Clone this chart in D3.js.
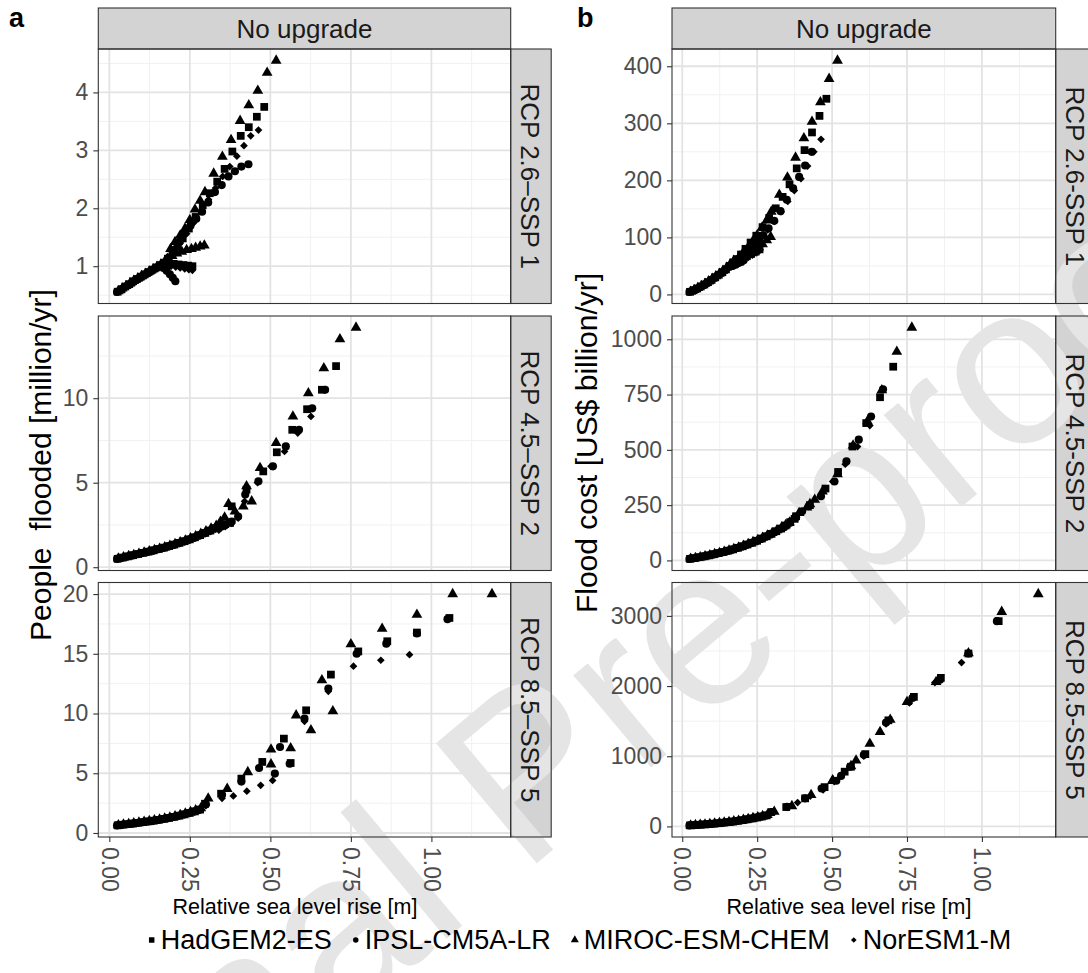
<!DOCTYPE html>
<html><head><meta charset="utf-8">
<script src="https://cdn.jsdelivr.net/npm/d3@7"></script>
<style>
body{margin:0;background:#fff}
svg{display:block}
text{font-family:"Liberation Sans",Arial,Helvetica,sans-serif}
</style>
</head><body>
<svg id="chart" width="1088" height="973"></svg>
<script>
// ---------------- categories / labels ----------------
const models = ["HadGEM2-ES","IPSL-CM5A-LR","MIROC-ESM-CHEM","NorESM1-M"];
const stripLabelsA = ["RCP 2.6\u2013SSP 1","RCP 4.5\u2013SSP 2","RCP 8.5\u2013SSP 5"];
const stripLabelsB = ["RCP 2.6-SSP 1","RCP 4.5-SSP 2","RCP 8.5-SSP 5"];
const facetTitle = "No upgrade";
const xTickValues = [0,0.25,0.5,0.75,1.0];
const xTickLabels = ["0.00","0.25","0.50","0.75","1.00"];
const yTicksPeople26 = [1,2,3,4];
const yTicksPeople45 = [0,5,10];
const yTicksPeople85 = [0,5,10,15,20];
const yTicksCost26 = [0,100,200,300,400];
const yTicksCost45 = [0,250,500,750,1000];
const yTicksCost85 = [0,1000,2000,3000];
const xTitle = "Relative sea level rise [m]";
const yTitleA = "People  flooded [million/yr]";
const yTitleB = "Flood cost [US$ billion/yr]";
const watermark = "Journal Pre-proof";

// ---------------- RCP 2.6 - SSP 1 ----------------
const slr26Had  = [0.026,0.038,0.050,0.062,0.074,0.086,0.098,0.110,0.122,0.134,0.146,0.158,0.170,0.182,0.196,0.211,0.228,0.247,0.268,0.290,0.312,0.335,0.358,0.382,0.408,0.433,0.458,0.481,0.185,0.200,0.215,0.230,0.245,0.258];
const ppl26Had  = [0.56,0.60,0.65,0.69,0.74,0.78,0.82,0.86,0.90,0.94,0.98,1.02,1.06,1.13,1.23,1.34,1.48,1.65,1.85,2.05,2.26,2.46,2.68,2.98,3.25,3.40,3.58,3.75,1.05,1.04,1.03,1.02,1.01,1.00];
const cost26Had = [4.6,7.5,10.5,14,17.5,21.5,25.5,30,34.5,39,44,50,56,62,70,80,91,103,118,134,151,171,193,221,253,284,313,343,58,63,67,71,75,79];

const slr26Ipsl  = [0.024,0.036,0.048,0.060,0.072,0.084,0.096,0.108,0.120,0.132,0.144,0.156,0.170,0.185,0.200,0.218,0.235,0.252,0.270,0.288,0.307,0.328,0.349,0.370,0.390,0.410,0.432,0.168,0.178,0.188,0.197,0.205];
const ppl26Ipsl  = [0.556,0.60,0.64,0.68,0.72,0.76,0.80,0.84,0.88,0.92,0.96,1.00,1.06,1.15,1.28,1.42,1.58,1.70,1.82,1.94,2.10,2.28,2.40,2.55,2.64,2.72,2.76,0.97,0.92,0.86,0.80,0.74];
const cost26Ipsl = [4.4,7,10,13.5,17,21,25,29.5,34,38.5,43.5,49,55,61,67,75,83,93,104,116,129,146,166,186,206,226,250,50,52,55,57,60];

const slr26Miroc  = [0.028,0.040,0.052,0.064,0.076,0.088,0.100,0.112,0.124,0.136,0.148,0.160,0.172,0.190,0.204,0.220,0.235,0.250,0.266,0.282,0.297,0.324,0.351,0.378,0.406,0.433,0.461,0.490,0.518,0.180,0.195,0.210,0.225,0.240,0.255,0.268,0.282,0.295];
const ppl26Miroc  = [0.57,0.615,0.66,0.705,0.75,0.79,0.83,0.87,0.91,0.95,0.99,1.03,1.08,1.30,1.42,1.53,1.65,1.80,1.98,2.13,2.28,2.60,2.89,3.18,3.51,3.78,4.03,4.34,4.55,1.13,1.18,1.22,1.25,1.28,1.30,1.32,1.34,1.36];
const cost26Miroc = [5,8,11.5,15,19,23,27.5,32,36.5,41.5,47,53,59,66,74,83,93,104,117,130,145,175,205,240,274,303,337,378,410,56,61,66,71,77,83,88,95,101];

const slr26Nor  = [0.025,0.037,0.049,0.061,0.073,0.085,0.097,0.109,0.121,0.133,0.145,0.157,0.169,0.182,0.200,0.220,0.240,0.262,0.285,0.308,0.330,0.352,0.374,0.396,0.418,0.439,0.463,0.178,0.192,0.206,0.220,0.234,0.247,0.258];
const ppl26Nor  = [0.56,0.605,0.65,0.695,0.735,0.775,0.815,0.855,0.895,0.935,0.975,1.015,1.055,1.12,1.25,1.40,1.56,1.75,1.95,2.15,2.35,2.55,2.72,2.90,3.08,3.25,3.35,1.01,1.00,0.985,0.97,0.955,0.94,0.93];
const cost26Nor = [4.5,7.2,10.2,13.8,17.2,21.2,25.2,29.8,34.2,38.8,43.8,49.5,55.5,60,68,77,87,99,113,128,145,163,182,203,225,250,272,53,57,61,65,69,73,77];

// ---------------- RCP 4.5 - SSP 2 ----------------
const slr45Had  = [0.026,0.042,0.058,0.074,0.090,0.106,0.122,0.138,0.154,0.170,0.186,0.202,0.218,0.234,0.250,0.266,0.282,0.298,0.314,0.330,0.345,0.360,0.375,0.380,0.426,0.478,0.520,0.568,0.614,0.660,0.704];
const ppl45Had  = [0.50,0.57,0.64,0.71,0.78,0.85,0.92,1.00,1.08,1.16,1.25,1.34,1.44,1.54,1.65,1.77,1.90,2.03,2.17,2.31,2.42,2.55,2.62,3.60,4.59,5.67,6.80,8.13,9.35,10.50,11.90];
const cost45Had = [7,10.5,14.5,18.5,23,28,33,38,44,50,57,64,72,80,89,99,109,120,132,144,158,173,188,200,250,325,400,515,621,738,876];

const slr45Ipsl  = [0.024,0.040,0.056,0.072,0.088,0.104,0.120,0.136,0.152,0.168,0.184,0.200,0.216,0.232,0.248,0.264,0.280,0.296,0.312,0.328,0.340,0.360,0.380,0.400,0.422,0.463,0.508,0.548,0.589,0.630,0.670];
const ppl45Ipsl  = [0.49,0.56,0.63,0.70,0.77,0.84,0.91,0.98,1.06,1.14,1.23,1.32,1.42,1.52,1.63,1.75,1.88,2.01,2.15,2.29,2.30,2.50,2.70,3.00,4.30,5.08,5.97,7.15,8.13,9.40,10.50];
const cost45Ipsl = [6.7,10,14,18,22,27,32,37,43,49,56,63,71,79,88,98,108,119,131,143,150,170,195,222,245,290,357,448,546,651,774];

const slr45Miroc  = [0.028,0.044,0.060,0.076,0.092,0.108,0.124,0.140,0.156,0.172,0.188,0.204,0.220,0.236,0.252,0.268,0.284,0.300,0.316,0.332,0.345,0.358,0.370,0.390,0.416,0.426,0.442,0.468,0.518,0.570,0.618,0.666,0.716,0.766];
const ppl45Miroc  = [0.52,0.59,0.66,0.73,0.80,0.87,0.94,1.02,1.10,1.19,1.28,1.38,1.48,1.59,1.71,1.84,1.98,2.13,2.29,2.45,2.70,2.95,3.75,3.30,3.60,4.80,3.90,5.87,7.35,8.92,10.30,11.78,13.49,14.18];
const cost45Miroc = [7.5,11,15,19.5,24,29,34,39.5,45.5,52,59,66.5,74.5,83,92.5,102.5,113,124.5,137,150,160,172,188,215,240,255,275,312,390,520,630,770,944,1053];

const slr45Nor  = [0.025,0.041,0.057,0.073,0.089,0.105,0.121,0.137,0.153,0.169,0.185,0.201,0.217,0.233,0.249,0.265,0.281,0.297,0.313,0.329,0.340,0.360,0.380,0.400,0.420,0.460,0.502,0.544,0.585,0.626];
const ppl45Nor  = [0.49,0.555,0.62,0.69,0.76,0.83,0.90,0.97,1.05,1.13,1.21,1.30,1.40,1.50,1.61,1.72,1.84,1.97,2.10,2.24,2.20,2.40,2.60,2.90,3.90,5.00,5.97,6.85,7.94,8.92];
const cost45Nor = [6.8,10.2,14.2,18.2,22.5,27.5,32.5,37.5,43.5,49.5,56.5,63.5,71.5,79.5,88.5,98.5,108.5,119.5,131.5,143.5,150,172,196,222,245,290,357,435,515,610];

// ---------------- RCP 8.5 - SSP 5 ----------------
const slr85Had  = [0.026,0.042,0.058,0.074,0.090,0.106,0.122,0.138,0.154,0.170,0.186,0.202,0.218,0.234,0.250,0.266,0.282,0.297,0.347,0.410,0.475,0.542,0.563,0.611,0.688,0.773,0.863,0.955,1.056];
const ppl85Had  = [0.64,0.69,0.74,0.79,0.85,0.91,0.97,1.03,1.10,1.18,1.26,1.35,1.45,1.56,1.68,1.81,1.96,2.45,3.29,4.55,5.95,7.90,5.86,10.27,13.26,15.20,16.05,16.78,18.00];
const cost85Had = [14.5,18.5,23,28,33,39,46,53,61,69,79,89,101,113,127,141,157,205,276,400,560,780,850,1030,1512,1846,2117,2464,2925];

const slr85Ipsl  = [0.024,0.040,0.056,0.072,0.088,0.104,0.120,0.136,0.152,0.168,0.184,0.200,0.216,0.232,0.248,0.264,0.280,0.300,0.350,0.410,0.465,0.514,0.530,0.560,0.606,0.680,0.768,0.860,0.955,1.050];
const ppl85Ipsl  = [0.633,0.68,0.73,0.78,0.84,0.90,0.96,1.02,1.09,1.17,1.25,1.34,1.44,1.55,1.67,1.80,1.95,2.40,3.20,4.30,5.44,4.97,7.20,5.80,9.57,12.10,15.00,15.85,16.70,17.90];
const cost85Ipsl = [14,18,22,27,32,38,45,52,60,68,78,88,100,112,126,140,156,205,280,400,540,650,720,850,1020,1480,1830,2090,2464,2925];

const slr85Miroc  = [0.028,0.044,0.060,0.076,0.092,0.108,0.124,0.140,0.156,0.172,0.188,0.204,0.220,0.236,0.252,0.268,0.284,0.307,0.366,0.430,0.502,0.502,0.563,0.580,0.626,0.660,0.694,0.750,0.847,0.955,1.066,1.188];
const ppl85Miroc  = [0.66,0.71,0.76,0.82,0.88,0.94,1.00,1.07,1.14,1.22,1.31,1.41,1.52,1.64,1.77,1.91,2.07,2.90,3.70,5.10,7.00,5.75,7.10,9.85,8.60,12.80,10.20,15.80,17.10,18.28,20.00,20.00];
const cost85Miroc = [15,19.5,24,29,35,41,48,56,64,73,83,94,106,119,133,148,165,210,290,450,660,650,860,940,1180,1346,1520,1775,2060,2470,3058,3311];

const slr85Nor  = [0.025,0.041,0.057,0.073,0.089,0.105,0.121,0.137,0.153,0.169,0.185,0.201,0.217,0.233,0.249,0.265,0.281,0.300,0.350,0.385,0.427,0.470,0.507,0.606,0.680,0.758,0.843,0.932];
const ppl85Nor  = [0.635,0.68,0.725,0.775,0.83,0.89,0.95,1.01,1.08,1.15,1.23,1.32,1.42,1.52,1.63,1.75,1.89,2.30,2.90,3.10,3.50,3.99,4.40,9.35,11.86,13.96,14.46,14.93];
const cost85Nor = [14.2,18,22.5,27.5,32.5,38.5,45.5,52.5,60.5,68.5,78.5,88.5,100.5,112.5,126.5,140.5,156.5,200,270,340,430,520,640,1000,1460,1760,2050,2335];

// ---------------- assemble ----------------
const scen = [
  {slr:[slr26Had,slr26Ipsl,slr26Miroc,slr26Nor], ppl:[ppl26Had,ppl26Ipsl,ppl26Miroc,ppl26Nor], cost:[cost26Had,cost26Ipsl,cost26Miroc,cost26Nor], tp:yTicksPeople26, tc:yTicksCost26},
  {slr:[slr45Had,slr45Ipsl,slr45Miroc,slr45Nor], ppl:[ppl45Had,ppl45Ipsl,ppl45Miroc,ppl45Nor], cost:[cost45Had,cost45Ipsl,cost45Miroc,cost45Nor], tp:yTicksPeople45, tc:yTicksCost45},
  {slr:[slr85Had,slr85Ipsl,slr85Miroc,slr85Nor], ppl:[ppl85Had,ppl85Ipsl,ppl85Miroc,ppl85Nor], cost:[cost85Had,cost85Ipsl,cost85Miroc,cost85Nor], tp:yTicksPeople85, tc:yTicksCost85}
];

// ---------------- layout ----------------
const cols = [{left:98.3,right:510.7,label:"a",labelX:9,yLabX:40,yLabY:465,xTitleX:295,strips:stripLabelsA,metric:"ppl",ticks:"tp",yTitle:yTitleA},
              {left:672,right:1055.7,label:"b",labelX:577,yLabX:586,yLabY:443,xTitleX:849,strips:stripLabelsB,metric:"cost",ticks:"tc",yTitle:yTitleB}];
const rows = [{top:49,bottom:303.5},{top:316,bottom:570.5},{top:582.5,bottom:837}];
const stripTop = 8, stripW = 40.5;
const C = {border:"#333333", strip:"#d3d3d3", major:"#e3e3e3", minor:"#f1f1f1", tick:"#4d4d4d"};

const svg = d3.select("#chart");
const gBack = svg.append("g");
const gWM = svg.append("g");
const gFront = svg.append("g");

function expand(ext){const r=ext[1]-ext[0];return [ext[0]-0.05*r, ext[1]+0.05*r];}
const allSlr = scen.flatMap(s=>s.slr.flat());
const xDom = expand(d3.extent(allSlr));

const shapes = [
  d3.symbol().type(d3.symbolSquare).size(60),
  d3.symbol().type(d3.symbolCircle).size(52),
  d3.symbol().type(d3.symbolTriangle).size(50),
  d3.symbol().type(d3.symbolSquare).size(30)
];
const rotations = [0,0,0,45];

function minorOf(t, dom){
  const step=t[1]-t[0]; const out=[t[0]-step/2];
  for(let i=0;i<t.length-1;i++) out.push((t[i]+t[i+1])/2);
  out.push(t[t.length-1]+step/2);
  return out.filter(v=>v>=dom[0]&&v<=dom[1]);
}

cols.forEach((col,ci)=>{
  const x = d3.scaleLinear().domain(xDom).range([col.left,col.right]);
  gBack.append("rect").attr("x",col.left).attr("y",stripTop).attr("width",col.right-col.left).attr("height",rows[0].top-stripTop).attr("fill",C.strip);
  gFront.append("rect").attr("x",col.left).attr("y",stripTop).attr("width",col.right-col.left).attr("height",rows[0].top-stripTop).attr("fill","none").attr("stroke",C.border).attr("stroke-width",1.1);
  gFront.append("text").attr("x",(col.left+col.right)/2).attr("y",(stripTop+rows[0].top)/2).attr("text-anchor","middle").attr("dominant-baseline","central").attr("font-size",26).attr("fill","#1a1a1a").text(facetTitle);

  rows.forEach((row,ri)=>{
    const s = scen[ri];
    const vals = s[col.metric];
    const yDom = expand(d3.extent(vals.flat()));
    const y = d3.scaleLinear().domain(yDom).range([row.bottom,row.top]);
    const ticks = s[col.ticks];
    gBack.append("rect").attr("x",col.left).attr("y",row.top).attr("width",col.right-col.left).attr("height",row.bottom-row.top).attr("fill","#fff");
    const g = gBack.append("g");
    minorOf(xTickValues,xDom).forEach(v=>g.append("line").attr("x1",x(v)).attr("x2",x(v)).attr("y1",row.top).attr("y2",row.bottom).attr("stroke",C.minor).attr("stroke-width",1));
    minorOf(ticks,yDom).forEach(v=>g.append("line").attr("x1",col.left).attr("x2",col.right).attr("y1",y(v)).attr("y2",y(v)).attr("stroke",C.minor).attr("stroke-width",1));
    xTickValues.filter(v=>v>=xDom[0]&&v<=xDom[1]).forEach(v=>g.append("line").attr("x1",x(v)).attr("x2",x(v)).attr("y1",row.top).attr("y2",row.bottom).attr("stroke",C.major).attr("stroke-width",1.8));
    ticks.forEach(v=>g.append("line").attr("x1",col.left).attr("x2",col.right).attr("y1",y(v)).attr("y2",y(v)).attr("stroke",C.major).attr("stroke-width",1.8));
    gBack.append("rect").attr("x",col.right).attr("y",row.top).attr("width",stripW).attr("height",row.bottom-row.top).attr("fill",C.strip);
    gFront.append("rect").attr("x",col.right).attr("y",row.top).attr("width",stripW).attr("height",row.bottom-row.top).attr("fill","none").attr("stroke",C.border).attr("stroke-width",1.1);
    const sx = col.right+stripW/2-1, sy=(row.top+row.bottom)/2;
    gFront.append("text").attr("transform",`translate(${sx},${sy}) rotate(90)`).attr("text-anchor","middle").attr("dominant-baseline","central").attr("font-size",26).attr("fill","#1a1a1a").text(col.strips[ri]);

    const pg = gFront.append("g");
    models.forEach((m,mi)=>{
      const xs = s.slr[mi], ys = vals[mi];
      pg.selectAll(null).data(d3.range(xs.length)).join("path")
        .attr("d",shapes[mi]())
        .attr("transform",i=>`translate(${x(xs[i])},${y(ys[i])}) rotate(${rotations[mi]})`)
        .attr("fill","#000");
    });
    gFront.append("rect").attr("x",col.left).attr("y",row.top).attr("width",col.right-col.left).attr("height",row.bottom-row.top).attr("fill","none").attr("stroke",C.border).attr("stroke-width",1.1);

    const ya = gFront.append("g").attr("transform",`translate(${col.left},0)`)
      .call(d3.axisLeft(y).tickValues(ticks).tickSize(5).tickPadding(5).tickFormat(d3.format("d")));
    ya.select(".domain").remove();
    ya.selectAll("line").attr("stroke",C.border).attr("stroke-width",1.1);
    ya.selectAll("text").attr("font-size",23).attr("fill",C.tick).attr("font-family",null);

    if(ri===2){
      const xa = gFront.append("g").attr("transform",`translate(0,${row.bottom})`)
        .call(d3.axisBottom(x).tickValues(xTickValues).tickSize(5).tickFormat((d,i)=>xTickLabels[i]));
      xa.select(".domain").remove();
      xa.selectAll("line").attr("stroke",C.border).attr("stroke-width",1.1);
      xa.selectAll("text").attr("font-size",23).attr("fill",C.tick).attr("font-family",null)
        .attr("transform","rotate(90)").attr("x",10).attr("y",0).attr("dy","0.36em").attr("text-anchor","start");
      gFront.append("text").attr("x",col.xTitleX).attr("y",907).attr("text-anchor","middle").attr("dominant-baseline","central").attr("font-size",21.5).attr("fill","#000").text(xTitle);
    }
  });

  gFront.append("text").attr("transform",`translate(${col.yLabX},${col.yLabY}) rotate(-90)`).attr("text-anchor","middle").attr("dominant-baseline","central")
    .attr("font-size",30).attr("fill","#000").style("white-space","pre").text(col.yTitle);
  gFront.append("text").attr("x",col.labelX).attr("y",27).attr("font-size",27).attr("font-weight","bold").attr("fill","#000").text(col.label);
});

// ---------------- legend ----------------
const legendShapes = [
  d3.symbol().type(d3.symbolSquare).size(30),
  d3.symbol().type(d3.symbolCircle).size(24),
  d3.symbol().type(d3.symbolTriangle).size(28),
  d3.symbol().type(d3.symbolSquare).size(16)
];
const lg = gFront.append("g");
let cursor = 0;
models.forEach((m,mi)=>{
  const it = lg.append("g");
  it.append("path").attr("d",legendShapes[mi]()).attr("transform",`translate(5,0) rotate(${rotations[mi]})`).attr("fill","#000");
  const t = it.append("text").attr("x",14).attr("y",0).attr("dominant-baseline","central").attr("font-size",27).attr("fill","#000").text(m);
  const w = t.node().getComputedTextLength();
  it.attr("transform",`translate(${cursor},0)`);
  cursor += 14 + w + 19;
});
const totalW = cursor - 19;
lg.attr("transform",`translate(${579 - totalW/2},940)`);

// ---------------- watermark ----------------
gWM.append("text").attr("transform","translate(525,770) rotate(-40)").attr("text-anchor","middle").attr("dominant-baseline","central")
  .attr("font-size",228).attr("fill","#e5e5e5").text(watermark);
</script>
</body></html>
